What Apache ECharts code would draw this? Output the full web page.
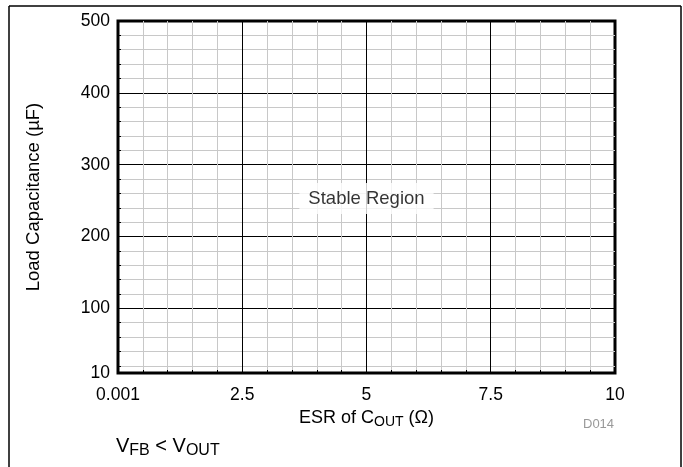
<!DOCTYPE html>
<html>
<head>
<meta charset="utf-8">
<script src="https://cdn.jsdelivr.net/npm/echarts@6/dist/echarts.min.js"></script>
<style>html,body{margin:0;padding:0;background:#fff;}#c{width:683px;height:467px;}</style>
</head>
<body>
<div id="c"></div>
<script>
// Grid/tick positions
const xTickValues = [0.001, 0.5, 1, 1.5, 2, 2.5, 3, 3.5, 4, 4.5, 5, 5.5, 6, 6.5, 7, 7.5, 8, 8.5, 9, 9.5, 10];
const xLabelValues = [0.001, 2.5, 5, 7.5, 10];
const yTickValues = [10, 20, 40, 60, 80, 100, 120, 140, 160, 180, 200, 220, 240, 260, 280, 300, 320, 340, 360, 380, 400, 420, 440, 460, 480, 500];
const yLabelValues = [10, 100, 200, 300, 400, 500];
// Annotation
const regionLabel = 'Stable Region';
const regionPoint = [5, 253];

const FONT = '"Liberation Sans", Arial, sans-serif';
const chart = echarts.init(document.getElementById('c'), null, {renderer: 'canvas'});
chart.setOption({
  animation: false,
  backgroundColor: '#fff',
  grid: {left: 118, top: 21, right: 68, bottom: 94, show: true, borderColor: '#000', borderWidth: 3, backgroundColor: 'transparent'},
  xAxis: {
    type: 'value', min: 0.001, max: 10,
    axisLine: {show: false},
    axisTick: {show: true, inside: true, length: 3, customValues: xTickValues, lineStyle: {color: '#000', width: 1}},
    axisLabel: {customValues: xLabelValues, formatter: v => String(v), color: '#000', fontFamily: FONT, fontSize: 17.5, margin: 13},
    splitLine: {show: true, lineStyle: {color: ['#000', '#c8c8c8', '#c8c8c8', '#c8c8c8', '#c8c8c8'], width: 1}},
    name: '{n|ESR of C}{s|OUT}{n| (Ω)}',
    nameLocation: 'middle', nameGap: 29,
    nameTextStyle: {rich: {n: {fontFamily: FONT, fontSize: 18, color: '#000'}, s: {fontFamily: FONT, fontSize: 14, color: '#000', verticalAlign: 'bottom', padding: [9, 0, 0, 0]}}}
  },
  yAxis: {
    type: 'value', min: 10, max: 500,
    axisLine: {show: false},
    axisTick: {show: true, inside: true, length: 3, customValues: yTickValues, lineStyle: {color: '#000', width: 1}},
    axisLabel: {customValues: yLabelValues, formatter: v => String(v), color: '#000', fontFamily: FONT, fontSize: 17.5, margin: 8},
    splitLine: {show: true, lineStyle: {color: ['#000', '#c8c8c8', '#c8c8c8', '#c8c8c8', '#c8c8c8'], width: 1}},
    name: 'Load Capacitance (µF)',
    nameLocation: 'middle', nameGap: 75,
    nameTextStyle: {fontFamily: FONT, fontSize: 18.5, color: '#000'}
  },
  series: [{
    type: 'scatter', symbolSize: 0, silent: true,
    data: [regionPoint],
    label: {show: true, position: 'inside', formatter: regionLabel, fontFamily: FONT, fontSize: 18.5, color: '#000',
      backgroundColor: '#fff', padding: [6, 9, 6, 9]}
  }],
  graphic: [
    {type: 'line', shape: {x1: 9, y1: 6, x2: 681, y2: 6}, style: {stroke: '#000', lineWidth: 1.5}},
    {type: 'line', shape: {x1: 9, y1: 6, x2: 9, y2: 467}, style: {stroke: '#000', lineWidth: 1.5}},
    {type: 'line', shape: {x1: 681, y1: 6, x2: 681, y2: 467}, style: {stroke: '#000', lineWidth: 1.5}},
    {type: 'text', left: 583, top: 418, style: {text: 'D014', font: '13px ' + FONT, fill: '#999'}},
    {type: 'text', left: 116, top: 436, style: {
      text: '{n|V}{s|FB}{n| < V}{s|OUT}',
      rich: {n: {fontFamily: FONT, fontSize: 20, fill: '#000'}, s: {fontFamily: FONT, fontSize: 16, fill: '#000', verticalAlign: 'bottom', padding: [10, 0, 0, 0]}}
    }}
  ]
});
</script>
</body>
</html>
